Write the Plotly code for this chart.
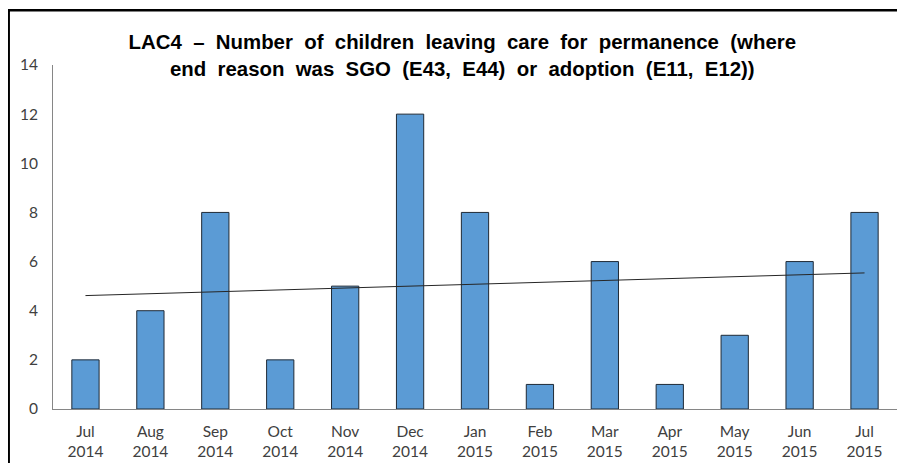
import numpy as np
import plotly.graph_objects as go

months = ["Jul<br>2014", "Aug<br>2014", "Sep<br>2014", "Oct<br>2014", "Nov<br>2014", "Dec<br>2014",
          "Jan<br>2015", "Feb<br>2015", "Mar<br>2015", "Apr<br>2015", "May<br>2015", "Jun<br>2015", "Jul<br>2015"]
values = [2, 4, 8, 2, 5, 12, 8, 1, 6, 1, 3, 6, 8]
y_ticks = [0, 2, 4, 6, 8, 10, 12, 14]

idx = np.arange(len(values))
slope, intercept = np.polyfit(idx, values, 1)
trend = slope * idx + intercept

S = "\u00a0 "
title_text = ("LAC4" + S + "–" + S + "Number" + S + "of" + S + "children" + S + "leaving" + S + "care" + S +
              "for" + S + "permanence" + S + "(where<br>end" + S + "reason" + S + "was" + S + "SGO" + S +
              "(E43," + S + "E44)" + S + "or" + S + "adoption" + S + "(E11," + S + "E12))")

fig = go.Figure()
fig.add_trace(go.Bar(x=months, y=values, marker=dict(color="#5B9BD5", line=dict(color="#1f2a36", width=1)),
                     showlegend=False))
fig.add_trace(go.Scatter(x=months, y=trend, mode="lines", line=dict(color="#262626", width=1),
                         showlegend=False))

fig.update_layout(
    width=905, height=463,
    margin=dict(l=45, r=16, t=57, b=62, autoexpand=False),
    paper_bgcolor="white", plot_bgcolor="white",
    bargap=0.58,
    title=dict(text=title_text,
               x=0.502, xanchor="center", y=0.911, yanchor="middle",
               font=dict(family="Liberation Sans, Arial", size=20.4, color="#000000", weight="bold")),
    font=dict(family="Lato, Liberation Sans", size=15.5, color="#404040"),
    xaxis=dict(showline=True, linecolor="#868686", linewidth=1, ticks="", showgrid=False, automargin=False,
               ticklabelstandoff=8, tickfont=dict(size=15.5, color="#404040")),
    yaxis=dict(range=[0, 14], tickvals=y_ticks, showline=True, linecolor="#868686", linewidth=1,
               ticks="", showgrid=False, zeroline=False, ticklabelstandoff=11, automargin=False,
               tickfont=dict(size=15.5, color="#404040")),
    shapes=[dict(type="rect", xref="paper", yref="paper", x0=-0.0525, x1=1.2, y0=-0.4, y1=1.1595,
                 line=dict(color="#000000", width=2.5), fillcolor="rgba(0,0,0,0)")],
)

fig.write_html("out.html")
